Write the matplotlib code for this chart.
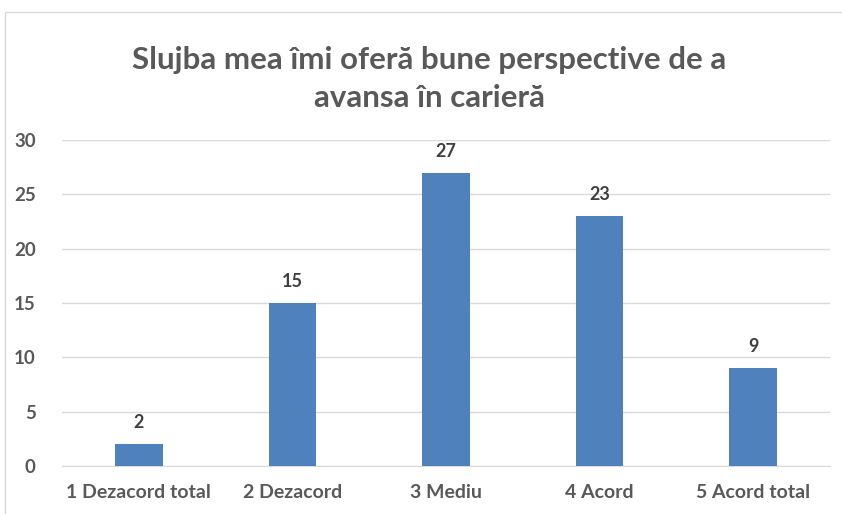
import matplotlib
matplotlib.use('Agg')
import matplotlib.pyplot as plt
from matplotlib.patches import Rectangle

categories = ['1 Dezacord total', '2 Dezacord', '3 Mediu', '4 Acord', '5 Acord total']
values = [2, 15, 27, 23, 9]
yticks = [0, 5, 10, 15, 20, 25, 30]

plt.rcParams['font.family'] = ['Lato', 'DejaVu Sans']

fig = plt.figure(figsize=(8.42, 5.14), dpi=100)
fig.patches.append(Rectangle((5 / 842, -0.1), 2, 1.1 - 12 / 514, transform=fig.transFigure,
                             fill=False, edgecolor='#d9d9d9', linewidth=1))

ax = fig.add_axes([62 / 842, (514 - 466) / 514, (830 - 62) / 842, (466 - 140) / 514])
x = range(len(categories))
bars = ax.bar(x, values, width=0.31, color='#4f81bd', zorder=3)
for b, v in zip(bars, values):
    ax.text(b.get_x() + b.get_width() / 2, v + 1.2, str(v), ha='center', va='bottom',
            fontsize=13, fontweight='bold', color='#404040')

ax.set_xlim(-0.5, len(categories) - 0.5)
ax.set_ylim(0, 30)
ax.set_yticks(yticks)
ax.set_xticks(list(x))
ax.set_xticklabels(categories)
ax.grid(axis='y', color='#d9d9d9', linewidth=1, zorder=0)
for s in ['top', 'right', 'left']:
    ax.spines[s].set_visible(False)
ax.spines['bottom'].set_color('#d9d9d9')
ax.tick_params(axis='both', length=0, labelcolor='#595959')
ax.tick_params(axis='x', labelsize=14, pad=13)
ax.tick_params(axis='y', labelsize=13.5, pad=19)
for lbl in ax.get_xticklabels() + ax.get_yticklabels():
    lbl.set_fontweight('bold')

fig.text(429 / 842, 1 - 79 / 514, 'Slujba mea îmi oferă bune perspective de a\navansa în carieră',
         ha='center', va='center', fontsize=22.5, fontweight='bold', color='#595959', linespacing=1.4)

fig.savefig('out.png', dpi=100)
